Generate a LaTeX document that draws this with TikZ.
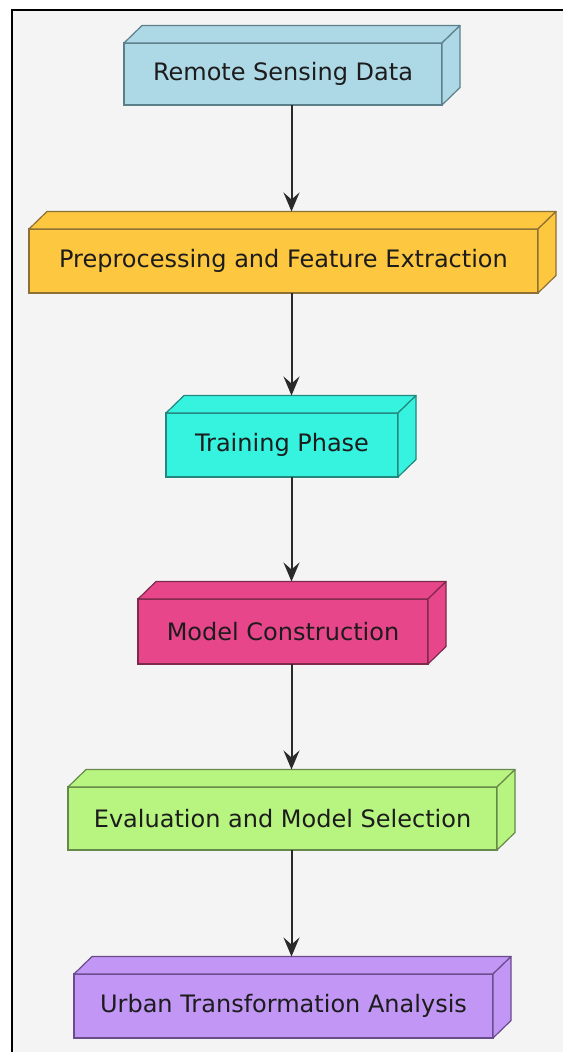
\documentclass[tikz,border=0pt]{standalone}
\usepackage{fontspec}
\setmainfont{DejaVu Sans}
\usetikzlibrary{arrows.meta}
\definecolor{bgc}{HTML}{F4F4F4}
\definecolor{f1}{HTML}{ADD8E6}\definecolor{d1}{HTML}{5C7F8A}
\definecolor{f2}{HTML}{FDC73F}\definecolor{d2}{HTML}{8C7035}
\definecolor{f3}{HTML}{36F3DF}\definecolor{d3}{HTML}{23877D}
\definecolor{f4}{HTML}{E8468A}\definecolor{d4}{HTML}{7E2A4C}
\definecolor{f5}{HTML}{B8F580}\definecolor{d5}{HTML}{66884A}
\definecolor{f6}{HTML}{C196F5}\definecolor{d6}{HTML}{6A4C8C}
\definecolor{txt}{HTML}{1C1C1C}
\definecolor{arrc}{HTML}{2A2A2A}
\tikzset{
  boxnode/.style={rectangle, inner sep=0pt, outer sep=0pt, line width=1.2pt,
    text=txt, font=\fontsize{24pt}{28pt}\selectfont},
  facestyle/.style={line width=1.2pt, line join=round},
  arr/.style={line width=2pt, draw=arrc, -{Stealth[length=19pt,width=16pt,inset=7pt]}}
}
\newcommand{\cubefaces}[3]{%
  \filldraw[facestyle, fill=#2, draw=#3] (#1.north west) -- ++(18,-17.5) -- ([shift={(18,-17.5)}]#1.north east) -- (#1.north east) -- cycle;
  \filldraw[facestyle, fill=#2, draw=#3] (#1.north east) -- ([shift={(18,-17.5)}]#1.north east) -- ([shift={(18,-17.5)}]#1.south east) -- (#1.south east) -- cycle;
  \coordinate (#1top) at ([shift={(18,-17.5)}]#1.north west);
}
\begin{document}
\begin{tikzpicture}[x=1pt,y=-1pt]
\useasboundingbox (0,0) rectangle (563,1052);
\fill[white] (0,0) rectangle (563,1052);
\fill[bgc] (12,10) rectangle (563,1052);
\draw[line width=2pt, black] (12,1052) -- (12,10) -- (563,10);
\coordinate (ax) at (291.5,0);

\node[boxnode, fill=f1, draw=d1, minimum width=318pt, minimum height=62pt] (n1) at (283,74) {Remote Sensing Data};
\cubefaces{n1}{f1}{d1}
\node[boxnode, fill=f2, draw=d2, minimum width=509pt, minimum height=64pt] (n2) at (283.5,261) {Preprocessing and Feature Extraction};
\cubefaces{n2}{f2}{d2}
\node[boxnode, fill=f3, draw=d3, minimum width=232pt, minimum height=64pt] (n3) at (282,445) {Training Phase};
\cubefaces{n3}{f3}{d3}
\node[boxnode, fill=f4, draw=d4, minimum width=290pt, minimum height=65pt] (n4) at (283,631.5) {Model Construction};
\cubefaces{n4}{f4}{d4}
\node[boxnode, fill=f5, draw=d5, minimum width=429pt, minimum height=63pt] (n5) at (282.5,818.5) {Evaluation and Model Selection};
\cubefaces{n5}{f5}{d5}
\node[boxnode, fill=f6, draw=d6, minimum width=419pt, minimum height=64pt] (n6) at (283.5,1006) {Urban Transformation Analysis};
\cubefaces{n6}{f6}{d6}

\draw[arr] (ax |- n1.south) -- (ax |- n2top);
\draw[arr] (ax |- n2.south) -- (ax |- n3top);
\draw[arr] (ax |- n3.south) -- (ax |- n4top);
\draw[arr] (ax |- n4.south) -- (ax |- n5top);
\draw[arr] (ax |- n5.south) -- (ax |- n6top);
\end{tikzpicture}
\end{document}
